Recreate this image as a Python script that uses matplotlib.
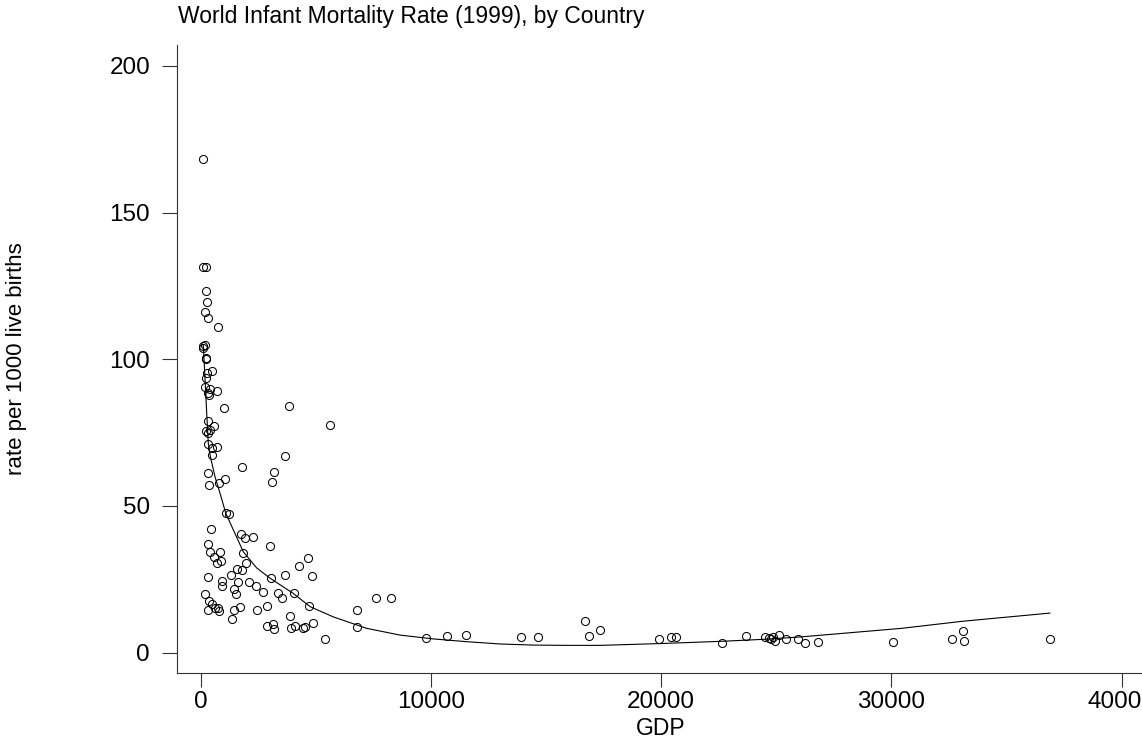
import numpy as np
import matplotlib
matplotlib.use('Agg')
import matplotlib.pyplot as plt

plt.rcParams['font.family'] = ['Liberation Sans', 'DejaVu Sans']

# страны: ВВП на душу населения и младенческая смертность (на 1000 живорождений)
gdp = [87, 113, 217, 217, 260, 187, 304, 765, 87, 187, 87, 217, 230, 477, 260, 217,
       200, 420, 695, 374, 330,
       1025, 3849, 304, 217, 404, 578, 330, 5630, 330, 477, 721, 504, 3676, 1794,
       3198, 3098, 330, 374, 808, 1056, 1086, 1242, 447,
       330, 404, 578, 838, 869, 721, 1738, 1938, 2285, 3024, 1851, 1955, 1807, 1590,
       4257, 4640, 4822, 330, 912, 1316, 938, 1633, 2085, 2402, 2720, 1447, 1533,
       3041, 3662, 4053, 3345, 3532, 4705,
       187, 374, 477, 621, 808, 760, 330, 1447, 1707, 1346, 2459, 2867, 6790,
       2893, 3154, 3198, 3879, 3910, 4097, 4431, 4531, 4865, 5405, 6790, 7615, 8267,
       9787, 10686, 11512, 13901, 14652, 16694, 16881, 17346, 19891, 20404, 20621,
       22650, 23693, 24496, 24700, 24857, 24930, 25135, 24774, 25430, 25943, 26251,
       26825, 30068, 32611, 33110, 33171, 36877]
rate = [168.2, 131.6, 131.4, 123.3, 119.6, 116.2, 114.2, 111.1, 104.5, 104.9, 103.7,
        100.6, 100.0, 96.1, 95.4, 93.5,
        90.5, 90.0, 89.3, 87.8, 88.4,
        83.3, 84.2, 79.1, 75.7, 75.9, 77.4, 74.8, 77.6, 71.1, 69.7, 70.2, 67.4, 67.1,
        63.4, 61.7, 58.1, 61.4, 57.2, 57.9, 59.1, 47.7, 47.3, 42.1,
        36.9, 34.4, 32.7, 34.4, 31.4, 30.5, 40.3, 39.2, 39.5, 36.4, 34.1, 30.5, 28.2,
        28.5, 29.7, 32.2, 26.3, 25.7, 24.5, 26.5, 22.8, 24.0, 24.2, 22.7, 20.6, 21.6,
        19.9, 25.6, 26.5, 20.5, 20.5, 18.8, 15.9,
        19.9, 17.7, 16.6, 15.3, 14.2, 15.4, 14.6, 14.6, 15.7, 11.5, 14.6, 16.0, 14.6,
        9.1, 9.7, 8.0, 12.5, 8.3, 9.1, 8.3, 8.7, 10.0, 4.8, 8.6, 18.8, 18.5,
        4.9, 5.7, 6.0, 5.5, 5.5, 10.8, 5.7, 7.7, 4.8, 5.3, 5.3,
        3.2, 5.7, 5.4, 5.0, 5.4, 3.9, 6.0, 4.5, 4.8, 4.5, 3.2,
        3.5, 3.5, 4.6, 7.3, 3.9, 4.7]

# сглаженная кривая
fit_gdp = [110, 190, 260, 330, 420, 620, 840, 1090, 1420, 1850, 2430, 3010, 4020,
           4750, 5760, 7210, 8660, 10100, 11560, 13000, 14450, 15900, 17350, 19890,
           22680, 24540, 26090, 30440, 33070, 36880]
fit_rate = [105, 93, 81.6, 71.4, 66.8, 60, 54.3, 47.5, 41.8, 34.4, 28.9, 25.4, 20.2,
            15.7, 12.2, 8.3, 6.0, 4.7, 3.75, 2.97, 2.6, 2.5, 2.5, 3.1,
            3.9, 4.6, 5.4, 8.3, 10.7, 13.5]

fig = plt.figure(figsize=(11.42, 7.38), dpi=100)
ax = fig.add_axes([0.15499, 0.08767, 0.84501, 0.85136])

ax.plot(fit_gdp, fit_rate, color='black', lw=0.8)
ax.plot(gdp, rate, linestyle='none', marker='o', ms=5.8, mfc='none', mec='black', mew=0.75)

ax.set_xlim(-1030, 40882)
ax.set_ylim(-7.02, 207.12)
ax.set_xticks([0, 10000, 20000, 30000, 40000])
ax.set_yticks([0, 50, 100, 150, 200])

for s in ['top', 'right']:
    ax.spines[s].set_visible(False)
for s in ['left', 'bottom']:
    ax.spines[s].set_color('#333333')
    ax.spines[s].set_linewidth(0.8)
ax.tick_params(axis='x', length=10.4, width=0.8, color='#333333', pad=2, labelsize=17.5)
ax.tick_params(axis='y', length=10.8, width=0.8, color='#333333', pad=8.6, labelsize=17.5)

fig.text(0.1559, 0.969, 'World Infant Mortality Rate (1999), by Country',
         fontsize=16.5, ha='left', va='baseline')
fig.text(0.0143, 0.5136, 'rate per 1000 live births', rotation=90,
         fontsize=16, ha='center', va='center')
fig.text(0.5788, 0.004, 'GDP', fontsize=16.5, ha='center', va='baseline')

fig.savefig('out.png', dpi=100)
